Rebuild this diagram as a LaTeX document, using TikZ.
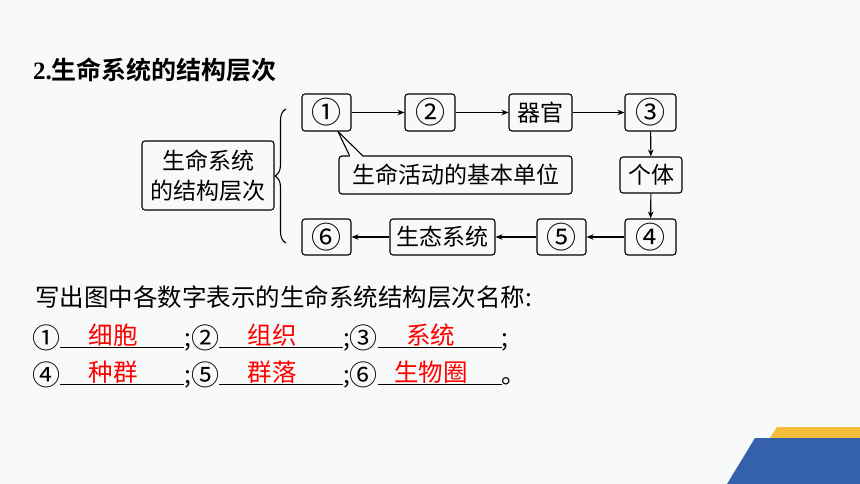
\documentclass[tikz,border=0pt]{standalone}
\usepackage{fontspec}
\setmainfont{Liberation Serif}
\newfontfamily\cjk{Noto Sans CJK SC}[BoldFont={Noto Sans CJK SC Bold}]
\usetikzlibrary{arrows.meta,decorations.pathreplacing}
\definecolor{pagebg}{RGB}{247,250,249}
\definecolor{ansred}{RGB}{255,0,0}
\definecolor{barblue}{RGB}{53,96,172}
\definecolor{baryellow}{RGB}{242,190,58}
\newcommand{\boxFont}[0]{\cjk\fontsize{23}{30}\selectfont}
\newcommand{\lineFont}[0]{\cjk\fontsize{24.5}{30}\selectfont}
\newcommand{\circnum}[1]{\makebox[24pt]{\raisebox{-2.5pt}{\fontsize{30}{30}\selectfont #1}}}
\newcommand{\rownum}[1]{\raisebox{-2pt}{\fontsize{28}{30}\selectfont #1}}
\newcommand{\answer}[1]{\rlap{\rule[-2pt]{124pt}{0.7pt}}\makebox[124pt]{\raisebox{2pt}{\textcolor{ansred}{#1}}\hspace{18pt}}}

\begin{document}
\begin{tikzpicture}[x=1pt, y=-1pt, >={Stealth[length=7pt,width=5.5pt]}]
  \tikzset{level/.style={draw, rounded corners=3pt, line width=1.1pt, font=\boxFont,
      inner sep=0pt, minimum height=37pt, align=center}}
  \fill[pagebg] (0,0) rectangle (860,484);
  \useasboundingbox (0,0) rectangle (860,484);
  \fill[baryellow] (777,427) -- (860,427) -- (860,438) -- (770,438) -- cycle;
  \fill[barblue] (755,438) -- (860,438) -- (860,484) -- (727,484) -- cycle;

  \node[anchor=base west, inner sep=0pt] (title) at (33,80)
    {\fontsize{25}{30}\selectfont\bfseries 2.{\cjk\bfseries 生命系统的结构层次}};

  \node[level, minimum width=132pt, minimum height=69pt] (sys) at (208,175.5) {生命系统\\的结构层次};
  \draw[decorate, decoration={brace,amplitude=11pt}, line width=1.1pt] (286,243) -- (286,109);

  \node[level, minimum width=49pt] (lv-1) at (326.5,112.5) {\circnum{①}};
  \node[level, minimum width=50pt] (lv-2) at (430,112.5) {\circnum{②}};
  \node[level, minimum width=63pt] (organ) at (540.5,112.5) {器官};
  \node[level, minimum width=51pt] (lv-3) at (650.5,112.5) {\circnum{③}};
  \node[level, minimum width=62pt, minimum height=36pt] (indiv) at (651,175) {个体};
  \node[level, minimum width=51pt, minimum height=36pt] (lv-4) at (650.5,237) {\circnum{④}};
  \node[level, minimum width=49pt, minimum height=36pt] (lv-5) at (561.5,237) {\circnum{⑤}};
  \node[level, minimum width=105pt, minimum height=36pt] (eco) at (442.5,237) {生态系统};
  \node[level, minimum width=49pt, minimum height=36pt] (lv-6) at (326.5,237) {\circnum{⑥}};

  \node[level, minimum width=233pt, minimum height=38pt] (cell) at (455.5,175) {生命活动的基本单位};
  \fill[pagebg] ([xshift=11.5pt,yshift=2pt]cell.north west) rectangle ([xshift=23.5pt,yshift=-2pt]cell.north west);
  \draw[line width=1.1pt, line join=round] ([xshift=11pt]cell.north west) -- ([xshift=11.5pt]lv-1.south)
    -- ([xshift=24pt]cell.north west);

  \draw[->, line width=1.1pt] (lv-1) -- (lv-2);
  \draw[->, line width=1.1pt] (lv-2) -- (organ);
  \draw[->, line width=1.1pt] (organ) -- (lv-3);
  \draw[->, line width=1.1pt] (lv-3) -- (indiv);
  \draw[->, line width=1.1pt] (indiv) -- (lv-4);
  \draw[->, line width=1.1pt] (lv-4) -- (lv-5);
  \draw[->, line width=1.1pt] (lv-5) -- (eco);
  \draw[->, line width=1.1pt] (eco) -- (lv-6);

  \node[anchor=base west, inner sep=0pt, font=\lineFont] (ask) at (35,306)
    {写出图中各数字表示的生命系统结构层次名称:};
  \node[anchor=base west, inner sep=0pt, font=\lineFont] (row-1) at (32,346)
    {\rownum{①}\answer{细胞};\rownum{②}\answer{组织};\rownum{③}\answer{系统};};
  \node[anchor=base west, inner sep=0pt, font=\lineFont] (row-2) at (32,383)
    {\rownum{④}\answer{种群};\rownum{⑤}\answer{群落};\rownum{⑥}\answer{生物圈}。};
\end{tikzpicture}
\end{document}
